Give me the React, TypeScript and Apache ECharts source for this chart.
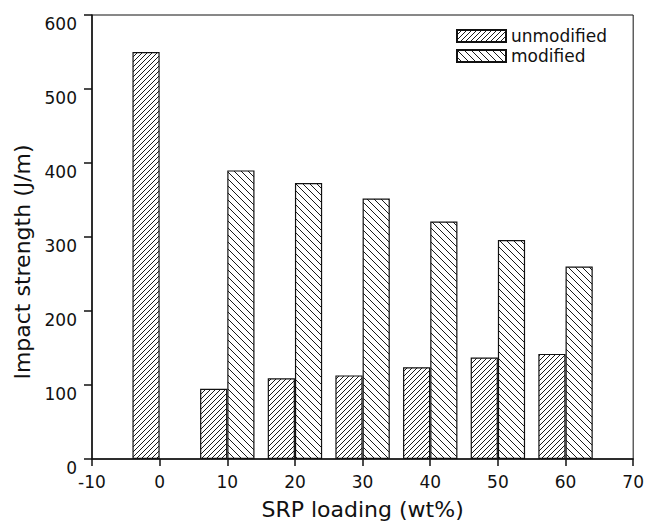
import React, { useEffect, useRef } from "react";
import * as echarts from "echarts";

const loadings = [0, 10, 20, 30, 40, 50, 60];
const unmodified = [550, 95, 109, 113, 124, 137, 142];
const modified: (number | null)[] = [null, 390, 373, 352, 321, 296, 260];
const seriesNames = ["unmodified", "modified"];
const xTitle = "SRP loading (wt%)";
const yTitle = "Impact strength (J/m)";

const W = 647;
const H = 528;
const GRID = { left: 92, right: 11, top: 15, bottom: 69 };
const X_MIN = -10;
const X_MAX = 70;
const BAR_UNITS = 4;
const FONT = "DejaVu Sans";

function hatch(size: number, dir: "/" | "\\") {
  const c = document.createElement("canvas");
  c.width = size;
  c.height = size;
  const ctx = c.getContext("2d")!;
  ctx.fillStyle = "#fff";
  ctx.fillRect(0, 0, size, size);
  ctx.fillStyle = "#1a1a1a";
  for (let i = 0; i < size; i++) {
    const y = dir === "/" ? size - 1 - i : i;
    ctx.fillRect(i, y, 1, 1);
  }
  return c;
}

export default function App() {
  const ref = useRef<HTMLDivElement>(null);
  useEffect(() => {
    if (!ref.current) return;
    const chart = echarts.init(ref.current, null, { renderer: "svg" });
    const plotW = W - GRID.left - GRID.right;
    const barWidth = (plotW / (X_MAX - X_MIN)) * BAR_UNITS;
    const patU = hatch(5, "/");
    const patM = hatch(7, "\\");
    const unData = loadings.map((x, i) => [x, unmodified[i]]);
    const modData = loadings
      .map((x, i) => [x, modified[i]])
      .filter((d) => d[1] !== null);
    const legendBase = {
      orient: "vertical",
      left: 456,
      padding: 0,
      icon: "rect",
      itemWidth: 49,
      itemHeight: 12,
      textStyle: { fontFamily: FONT, fontSize: 17, color: "#111", lineHeight: 16 },
    };
    chart.setOption({
      animation: false,
      backgroundColor: "#fff",
      textStyle: { fontFamily: FONT, color: "#111" },
      grid: {
        ...GRID,
        show: true,
        borderColor: "#111",
        borderWidth: 1,
        backgroundColor: "transparent",
      },
      legend: [
        { ...legendBase, data: [seriesNames[0]], top: 27.5 },
        { ...legendBase, data: [seriesNames[1]], top: 47.5 },
      ],
      xAxis: {
        type: "value",
        min: X_MIN,
        max: X_MAX,
        interval: 10,
        name: xTitle,
        nameLocation: "middle",
        nameGap: 39,
        nameTextStyle: { fontFamily: FONT, fontSize: 22, color: "#111" },
        axisLine: { show: true, onZero: false, lineStyle: { color: "#111", width: 1.5 } },
        axisTick: { show: true, inside: false, length: 7, lineStyle: { color: "#111", width: 1.5 } },
        axisLabel: { fontFamily: FONT, fontSize: 17, color: "#111", margin: 14 },
        splitLine: { show: false },
      },
      yAxis: {
        type: "value",
        min: 0,
        max: 600,
        interval: 100,
        axisLine: { show: true, onZero: false, lineStyle: { color: "#111", width: 1.5 } },
        axisTick: { show: true, inside: false, length: 8, lineStyle: { color: "#111", width: 1.5 } },
        axisLabel: {
          fontFamily: FONT,
          fontSize: 17,
          color: "#111",
          margin: 15,
          verticalAlign: "top",
          lineHeight: 17,
        },
        splitLine: { show: false },
      },
      graphic: [
        {
          type: "text",
          x: 22,
          y: 262,
          rotation: Math.PI / 2,
          style: {
            text: yTitle,
            font: `22px "${FONT}"`,
            fill: "#111",
            textAlign: "center",
            textVerticalAlign: "middle",
          },
        },
      ],
      series: [
        {
          name: seriesNames[0],
          type: "bar",
          data: unData,
          barWidth,
          barGap: "0%",
          itemStyle: {
            color: { image: patU, repeat: "repeat" },
            borderColor: "#111",
            borderWidth: 1.2,
          },
        },
        {
          name: seriesNames[1],
          type: "bar",
          data: modData,
          barWidth,
          barGap: "0%",
          itemStyle: {
            color: { image: patM, repeat: "repeat" },
            borderColor: "#111",
            borderWidth: 1.2,
          },
        },
      ],
    });
    return () => chart.dispose();
  }, []);
  return (
    <div
      ref={ref}
      style={{ position: "fixed", left: 0, top: 0, width: W, height: H, background: "#fff" }}
    />
  );
}
